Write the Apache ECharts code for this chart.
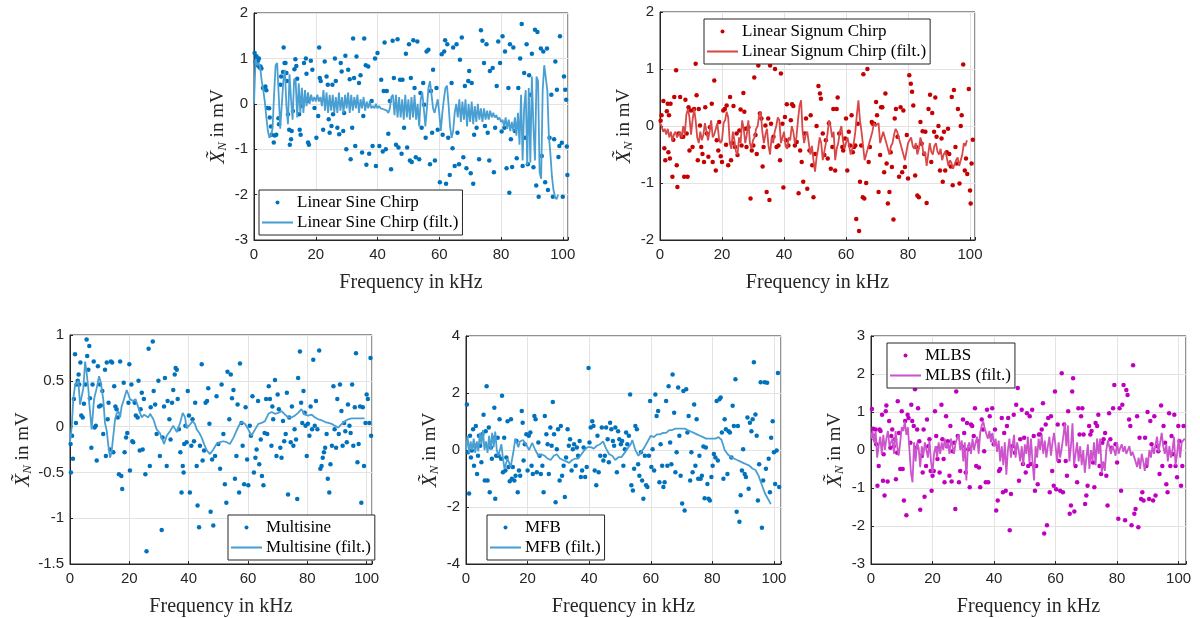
<!DOCTYPE html>
<html><head><meta charset="utf-8">
<script src="https://cdn.jsdelivr.net/npm/echarts@6/dist/echarts.min.js"></script>
<style>html,body{margin:0;padding:0;background:#fff}#c{width:1200px;height:618px}</style>
</head><body><div id="c"></div>
<script>
// ---------- DATA ----------
const xTicks = [0, 20, 40, 60, 80, 100];

// Panel 1: Linear Sine Chirp  [kHz, mV]
const sineDots = [[0.2,1.12],[0.5,0.92],[0.8,1.05],[1.1,0.85],[1.3,0.95],[1.6,1.0],[1.8,0.8],[2.1,0.82],[2.4,0.78],[2.9,0.35],[3.7,0.38],[4,0.3],[4.3,-0.09],[4.9,-0.1],[5.1,-0.3],[5.5,-0.5],[5.7,-0.68],[6.4,-0.85],[6.7,-0.7],[7.2,-0.68],[7.9,-0.32],[8.1,-0.45],[8.6,0.42],[8.8,0.6],[9.4,0.7],[9.6,1.24],[9.9,0.9],[10.2,0.9],[10.5,0.68],[10.7,0.5],[11,-0.23],[11.4,-0.57],[11.6,-0.9],[12,-0.78],[12.2,-0.6],[12.6,-0.16],[13.1,0.76],[13.4,0.98],[13.7,0.83],[14,0.55],[14.6,-0.23],[14.8,-0.57],[15.1,-0.68],[15.7,-0.05],[16.2,0.9],[16.8,1.0],[17,0.66],[17.3,0.06],[17.5,-0.85],[17.8,-0.9],[18.4,0.95],[18.9,0.75],[19.6,-0.09],[20.2,-0.75],[20.8,-0.27],[21.1,1.24],[21.3,0.57],[21.6,0.5],[22.4,-0.57],[22.9,0.93],[23.5,0.6],[23.9,0.42],[24.2,-0.34],[24.5,-0.64],[25.1,-0.49],[25.4,0.42],[25.6,-0.23],[26.2,1.0],[26.5,0.5],[27,-0.53],[27.6,-0.67],[28.1,0.9],[28.4,0.71],[28.9,-0.6],[29.2,-0.2],[29.6,1.06],[29.9,-1.0],[30.5,0.75],[31,0.54],[31.3,-1.22],[31.8,-0.53],[32.1,1.44],[32.4,0.57],[32.8,-0.93],[33.2,1.04],[34,0.46],[34.5,0.63],[35,-1.07],[35.4,-0.27],[35.7,1.44],[36.2,0.85],[36.4,-1.34],[37,0.82],[37.3,-1.1],[38.1,0.06],[38.4,-0.93],[39.2,1.0],[39.5,-1.37],[40,1.12],[40.6,-0.93],[41.2,0.53],[41.7,-1.05],[42,0.28],[42.3,1.35],[42.7,-1.0],[43,0.28],[43.5,-0.66],[44,0.06],[44.4,-1.44],[44.9,1.39],[45.3,0.57],[46,-0.9],[46.5,1.42],[46.8,-0.96],[47.3,0.53],[47.8,-1.1],[48.1,0.53],[48.6,-0.53],[49.2,1.1],[49.6,-0.96],[50.2,1.31],[50.5,-1.25],[50.8,0.57],[51.1,-1.28],[51.6,1.4],[52,0.35],[52.4,-1.18],[52.9,1.37],[53.5,-1.22],[53.9,0.24],[54.3,-0.53],[54.8,0.46],[55.1,-0.02],[55.6,-0.75],[55.9,1.15],[56.5,1.19],[57,-1.33],[57.3,0.28],[57.7,-0.64],[58,0.75],[58.6,-1.25],[59.1,0.35],[59.5,-0.57],[60.2,-1.73],[60.8,1.09],[61.1,-0.68],[61.6,1.15],[61.9,1.4],[62.2,-1.76],[62.6,1.31],[62.9,-0.75],[63.4,-1.57],[64,0.46],[64.3,-0.98],[64.5,1.24],[65,-1.37],[65.6,1.31],[65.9,-0.64],[66.4,-1.33],[66.7,0.97],[67.3,1.46],[67.8,-1.18],[68.3,0.39],[68.8,-1.42],[69.4,0.5],[69.7,0.72],[70.2,-1.53],[70.5,0.46],[71,-1.76],[71.3,-0.68],[72.1,-0.53],[72.9,-1.22],[73.5,1.62],[74,1.39],[74.5,0.9],[74.8,-0.49],[75.3,1.31],[75.7,-0.64],[76.2,-1.25],[76.4,0.72],[77.3,0.79],[77.7,-1.51],[78.1,-0.53],[78.6,0.39],[79.1,1.37],[79.7,0.9],[80.2,-0.61],[80.5,1.49],[81.1,-0.53],[81.3,1.15],[81.8,-1.42],[82.4,0.35],[82.7,-1.96],[82.9,1.31],[83.2,-0.78],[83.6,-1.39],[84,1.24],[84.5,-0.6],[85.1,-1.2],[85.6,0.35],[86.2,1.0],[86.7,1.76],[87,-1.37],[87.5,0.68],[87.8,-0.75],[88.3,1.31],[88.7,-1.33],[89.1,0.63],[89.6,0.2],[90,1.1],[90.5,-1.4],[91,1.63],[91.4,-1.8],[91.8,1.58],[92.2,-2.05],[92.9,1.22],[93.2,-1.15],[93.7,1.15],[94.3,-1.73],[94.9,1.22],[95.2,-1.9],[95.7,-0.75],[96.3,0.2],[96.8,-2.05],[97.2,-0.78],[97.6,0.93],[98.1,0.31],[98.6,-1.17],[98.9,-0.93],[99.1,1.49],[99.7,-0.86],[100,-2.05],[100.4,0.6],[100.8,0.31],[101.1,0.09],[101.3,-0.94],[101.5,-1.57]];
const sineFiltStep = 0.5;
const sineFilt = [
0.0,1.0,0.85,0.9,0.8,0.5,0.3,0.05,-0.3,-0.6,
-0.75,-0.7,-0.55,0.2,0.85,0.9,0.2,-0.55,-0.55,0.5,
0.75,-0.05,-0.45,0.65,0.1,-0.35,0.55,0.5,-0.3,0.45,
-0.2,0.35,-0.2,0.3,-0.05,0.25,0.0,0.2,0.05,0.15,
0.05,0.2,0.05,0.15,-0.05,0.3,-0.15,0.25,-0.2,0.2,
-0.15,0.2,-0.2,0.15,-0.2,0.25,-0.15,0.15,-0.2,0.2,
-0.1,0.25,-0.2,0.2,-0.15,0.15,-0.1,0.2,-0.2,0.1,
-0.1,0.15,-0.15,0.05,-0.1,0.05,-0.1,-0.05,-0.1,0.0,
-0.1,-0.05,-0.1,-0.1,-0.12,-0.1,-0.15,-0.2,-0.1,0.15,
0.2,-0.25,0.2,-0.3,0.15,-0.3,0.1,-0.35,0.2,-0.3,
0.1,-0.35,0.15,-0.3,0.2,-0.35,0.0,-0.5,0.1,0.25,
-0.1,-0.5,-0.1,0.35,0.5,0.2,-0.1,-0.2,-0.05,0.1,
-0.2,-0.6,-0.2,0.1,0.35,0.4,0.0,-0.5,-0.75,-0.6,
-0.2,0.0,-0.3,0.1,-0.4,0.05,-0.35,0.1,-0.5,0.0,
-0.4,0.05,-0.45,-0.05,-0.4,0.0,-0.35,-0.1,-0.4,-0.1,
-0.35,-0.15,-0.35,-0.15,-0.3,-0.2,-0.3,-0.25,-0.35,-0.3,
-0.4,-0.35,-0.5,-0.3,-0.55,-0.35,-0.6,-0.4,-0.6,-0.3,
-0.7,-0.2,-0.9,0.2,-1.25,-0.1,0.3,-1.35,0.35,-1.3,
0.6,-0.5,-1.25,0.6,0.5,-1.5,-1.65,0.3,0.85,0.85,
0.3,-0.7,-1.1,-1.6,-1.9,-2.05,-2.1,-2.0];

// Panel 2: Linear Signum Chirp
const signumDots = [[0.2,0.09],[0.5,0.19],[1.1,0.44],[1.4,-0.39],[1.7,-0.6],[2.2,0.26],[2.5,0.39],[2.7,-0.46],[2.9,0.19],[3.2,-0.57],[3.4,0.39],[4,-0.89],[4.3,-0.24],[4.6,0.51],[5.2,0.98],[5.4,-0.69],[5.6,-1.07],[6,-0.13],[6.5,0.51],[7,-0.19],[7.5,-0.19],[7.8,-0.89],[8.2,0.46],[8.6,-0.13],[8.9,-0.89],[9.2,0.33],[9.5,-0.43],[10,0.27],[10.5,-0.37],[11,0.3],[11.5,1.09],[11.8,0.54],[12.2,-0.6],[12.5,0.3],[12.9,0.01],[13.3,-0.37],[13.7,-0.49],[14.2,-0.63],[14.6,0.33],[15.1,-0.13],[15.6,-0.54],[16.1,-0.02],[16.7,0.39],[17,-0.63],[17.5,0.8],[18,-0.78],[18.3,-0.25],[18.8,-0.43],[19.1,0.07],[19.6,-0.53],[20,-0.63],[20.4,0.27],[20.9,0.3],[21.3,-0.33],[21.5,0.36],[22,-0.69],[22.6,0.51],[22.9,-0.6],[23.3,-0.3],[23.7,0.35],[24.2,-0.37],[24.7,-0.13],[25,-0.51],[25.6,-0.08],[26,0.29],[26.3,-0.34],[26.9,0.58],[27.2,0.25],[27.6,-0.05],[27.9,-0.37],[28.5,-0.02],[29.2,-1.27],[29.6,-0.43],[30.1,-0.34],[30.4,0.85],[30.8,-0.16],[31.2,-0.49],[31.7,1.06],[32.2,0.22],[32.7,0.13],[33.1,-0.71],[33.4,-0.37],[34,0.01],[34.4,-1.16],[34.9,0.13],[35.3,-1.3],[35.5,1.06],[35.8,0.04],[36.6,-0.19],[37.1,1.0],[37.6,-0.37],[38.2,-0.34],[38.7,-0.6],[39,0.92],[39.5,0.04],[39.8,-1.08],[40.3,0.16],[40.6,-0.25],[40.9,0.38],[41.4,-0.34],[41.7,1.12],[42.2,0.1],[42.6,0.38],[43,0.35],[43.5,-0.34],[44.1,-0.28],[44.7,-1.18],[45.2,-0.43],[45.7,-0.63],[46.2,-0.98],[46.7,-0.13],[47.1,0.13],[47.5,-1.1],[48.2,-0.43],[48.6,0.19],[49.1,-0.69],[49.5,-1.25],[50,-0.49],[50.5,0.0],[51.1,0.7],[51.6,0.57],[51.9,0.48],[52.5,-0.13],[53,-0.51],[53.5,-0.25],[54.1,-0.57],[54.5,0.05],[55.1,-0.75],[55.6,-0.37],[55.9,0.3],[56.5,-0.78],[57,0.3],[57.3,0.5],[57.8,-0.13],[58.3,1.25],[58.8,-0.37],[59.1,-0.43],[59.7,-0.22],[60,0.13],[60.4,-0.78],[60.9,-0.1],[61.3,-0.34],[61.8,0.19],[62.2,-0.46],[62.6,-0.37],[63,-0.34],[63.3,-1.63],[63.8,0.04],[64.2,-1.84],[64.5,-0.98],[64.9,-0.34],[65.4,-1.25],[65.6,0.91],[65.9,-1.27],[66.5,-1.0],[66.9,1.0],[67.3,-0.63],[67.7,-0.37],[68.3,0.07],[68.6,0.04],[69.1,0.04],[69.7,0.42],[70,0.19],[70.5,-1.16],[71,-0.51],[71.3,0.33],[71.7,0.33],[72.3,-0.81],[72.7,0.57],[73.1,-0.66],[73.5,-1.36],[74,-1.16],[74.4,-0.46],[74.8,-0.72],[75.3,-1.64],[75.7,0.13],[76.1,0.3],[76.6,-0.19],[77.1,-0.89],[77.6,0.33],[78.1,-0.81],[78.5,0.27],[79,-0.72],[79.6,-0.16],[80,-0.92],[80.4,0.89],[80.9,0.74],[81.3,0.6],[81.7,0.36],[82.3,-0.87],[82.6,-0.37],[83,-1.22],[83.5,-1.25],[84,0.07],[84.4,-0.31],[84.7,-0.09],[85.2,-0.49],[85.6,-0.1],[86,-1.35],[86.6,0.3],[87.1,0.55],[87.5,-0.63],[87.8,0.23],[88.4,-0.1],[88.8,0.5],[89.2,-0.19],[89.8,0.0],[90.3,-0.78],[90.8,-0.22],[91.2,-0.98],[91.6,-0.1],[92,-0.78],[92.5,-0.46],[92.9,-0.05],[93.3,-0.49],[93.8,-0.71],[94.1,0.51],[94.4,-1.04],[94.8,0.63],[95.3,-0.37],[95.7,-0.66],[96.1,0.3],[96.6,-1.01],[97,0.0],[97.3,0.19],[97.8,1.08],[98.3,-0.78],[98.7,-0.57],[99.1,-0.84],[99.6,0.65],[100,-1.13],[100.2,-1.36],[100.5,-0.66],[100.9,-0.24]];
const signumFiltStep = 0.5;
const signumFilt = [
0.05,0.0,-0.1,-0.05,-0.15,-0.05,-0.2,-0.1,-0.25,-0.15,
-0.1,-0.2,-0.15,-0.1,-0.2,0.0,-0.15,0.2,0.3,0.15,
-0.15,0.1,0.3,0.1,-0.2,-0.3,-0.1,-0.25,-0.15,0.05,
-0.1,-0.25,-0.1,0.1,-0.2,-0.15,-0.05,0.05,-0.2,-0.3,
-0.25,0.05,0.1,0.25,0.15,-0.3,-0.4,-0.1,-0.25,-0.45,
-0.5,-0.2,-0.3,0.1,-0.05,-0.3,-0.15,0.1,-0.3,-0.4,
-0.25,-0.2,-0.05,0.0,0.2,0.25,-0.1,-0.3,-0.15,-0.05,
-0.35,-0.5,-0.2,-0.3,-0.1,0.0,0.15,0.1,-0.3,-0.2,
-0.1,-0.35,-0.4,-0.2,-0.25,0.0,-0.1,-0.3,-0.2,0.1,
0.35,0.45,-0.1,-0.3,-0.15,-0.1,-0.3,-0.5,-0.35,-0.6,
-0.8,-0.55,-0.4,-0.2,-0.3,-0.6,-0.45,-0.3,-0.15,0.1,
0.0,-0.2,-0.1,-0.6,-0.4,-0.3,-0.1,0.0,-0.25,-0.4,
-0.3,-0.2,-0.35,-0.5,-0.4,-0.3,-0.1,0.2,0.45,0.1,
-0.1,-0.35,-0.6,-0.5,-0.4,-0.3,-0.2,-0.1,0.05,0.0,
0.0,0.05,-0.3,-0.2,-0.1,-0.2,-0.3,-0.4,-0.5,-0.35,
-0.3,-0.15,-0.05,-0.1,-0.2,-0.3,-0.4,-0.5,-0.6,-0.45,
-0.3,-0.25,-0.2,-0.35,-0.4,-0.3,-0.5,-0.4,-0.2,-0.3,
-0.5,-0.45,-0.7,-0.5,-0.3,-0.45,-0.5,-0.35,-0.3,-0.45,
-0.5,-0.4,-0.6,-0.5,-0.45,-0.55,-0.7,-0.6,-0.65,-0.75,
-0.75,-0.6,-0.55,-0.7,-0.7,-0.5,-0.3,-0.35,-0.25];

// Panel 3: Multisine
const multiDots = [[0.2,-0.19],[0.3,-0.5],[0.7,-0.1],[1,-0.35],[1.3,0.3],[1.7,0.79],[2,0.04],[2.2,0.46],[2.6,0.5],[2.9,0.57],[3.1,0.46],[3.5,0.7],[3.8,0.12],[4.3,0.1],[4.7,0.25],[5.2,0.46],[5.6,0.95],[5.8,0.77],[6.2,0.62],[6.5,0.88],[6.7,0.31],[7.2,-0.23],[7.6,0.46],[8,0.71],[8.3,-0.01],[8.7,0.01],[9,-0.37],[9.4,0.66],[9.8,0.22],[10.1,0.46],[10.4,0.23],[10.9,0.39],[11.2,-0.08],[11.8,0.62],[12.1,-0.32],[12.4,0.7],[12.7,0.08],[13,0.26],[13.5,-0.25],[13.8,0.71],[14.2,0.7],[14.6,-0.28],[14.9,0.44],[15.3,0.22],[15.7,0.19],[16.1,0.1],[16.5,-0.52],[16.9,0.71],[17.3,-0.54],[17.6,-0.68],[18.1,0.48],[18.4,-0.28],[18.9,-0.12],[19.3,-0.07],[19.7,0.26],[20,0.68],[20.2,-0.48],[20.7,0.46],[21,-0.16],[21.3,-0.17],[21.8,0.26],[22.2,0.12],[22.8,0.1],[23.1,0.5],[23.5,-0.26],[23.8,0.19],[24.2,0.37],[24.5,-0.25],[24.9,0.3],[25.4,-0.52],[25.8,-1.36],[26.5,0.85],[26.9,-0.43],[27.2,0.21],[27.9,0.93],[28.2,0.39],[28.7,0.24],[29.2,-0.08],[29.8,0.5],[30.3,-0.32],[30.9,-1.13],[31.2,-0.12],[31.7,0.22],[32,0.53],[32.6,-0.43],[32.9,0.28],[33.5,0.08],[33.9,-0.14],[34.4,0.26],[34.8,0.4],[35.3,0.57],[35.6,0.64],[36,0.62],[36.3,0.3],[36.7,-0.03],[37.2,-0.28],[37.6,-0.72],[38,-0.43],[38.3,-0.5],[38.5,-0.19],[38.9,0.01],[39.3,-0.17],[39.7,0.39],[40.1,0.12],[40.4,-0.72],[40.9,-0.21],[41.3,0.08],[41.8,-0.16],[42.2,0.26],[42.7,-0.43],[43,-0.86],[43.5,-1.1],[43.8,-0.21],[44.4,0.68],[44.7,-0.37],[45.2,-0.26],[45.7,0.26],[46.2,0.28],[46.6,0.42],[47,0.03],[47.4,-0.93],[47.9,-0.36],[48.3,-1.08],[48.9,-0.32],[49.4,0.33],[50,-0.19],[50.6,-0.46],[51.1,0.46],[51.7,-0.08],[52.2,-0.63],[52.7,-0.83],[53.1,0.6],[53.7,0.08],[54.2,0.57],[54.6,0.31],[55.1,0.4],[55.6,-0.57],[56.1,-0.32],[56.5,0.24],[57,-0.72],[57.3,0.69],[57.8,0.04],[58.2,-0.21],[58.7,-0.63],[59.2,0.21],[59.7,-0.36],[60.1,-0.64],[60.6,0.01],[61,-0.1],[61.5,0.33],[62,-0.5],[62.5,-0.34],[62.9,-0.25],[63.4,0.28],[63.8,-0.41],[64.3,-0.14],[64.7,-0.54],[65.2,-0.64],[65.6,-0.07],[66.1,0.3],[66.5,-0.08],[67,0.44],[67.4,0.3],[67.9,-0.21],[68.2,0.22],[68.5,0.08],[69.1,0.51],[69.6,-0.32],[70,0.35],[70.4,0.19],[70.9,-0.23],[71.3,-0.34],[71.8,0.06],[72.2,-0.16],[72.7,-0.08],[73.1,0.37],[73.5,-0.74],[73.9,0.1],[74.4,-0.17],[74.8,0.22],[75.3,-0.21],[75.7,-0.03],[76.2,-0.14],[76.6,-0.79],[76.9,0.53],[77.5,0.82],[77.9,0.26],[78.3,0.04],[78.7,0.39],[79.1,0.15],[79.4,0.01],[79.8,-0.32],[80.2,0.03],[80.7,-0.1],[81.1,0.22],[81.6,-0.03],[82,0.73],[82.5,0.01],[82.9,0.28],[83.4,-0.03],[84,0.83],[84.4,-0.46],[84.8,-0.43],[85.2,-0.34],[85.6,-0.28],[86,-0.23],[86.5,-0.08],[86.9,-0.57],[87.4,-0.72],[87.8,-0.41],[88.3,-0.21],[88.8,0.44],[89.2,-0.03],[89.7,-0.23],[90.1,0.3],[90.6,-0.08],[91,0.46],[91.5,0.17],[91.9,-0.21],[92.4,0.04],[92.8,-0.05],[93.3,-0.17],[93.7,0.24],[94.2,0.01],[94.6,-0.07],[95.1,0.46],[95.5,-0.21],[96,0.21],[96.4,0.8],[96.9,-0.39],[97.3,-0.19],[97.8,0.22],[98.2,-0.83],[98.7,0.21],[99.1,-0.43],[99.6,0.04],[100,0.35],[100.4,0.3],[100.9,0.04],[101.3,0.75],[101.5,-0.1],[101.7,-1.12]];
const multiFilt = [[0,-0.17],[0.6,0],[1.1,0.3],[1.7,0.45],[2.2,0.44],[2.8,0.5],[3.4,0.24],[3.9,0.22],[4.5,0.42],[5.1,0.71],[5.6,0.59],[6.2,0.41],[6.5,0.25],[7.3,-0.03],[8.1,0.3],[9,0.42],[9.8,0.55],[10.4,0.48],[11.2,0.3],[11.8,0.04],[12.4,-0.05],[12.9,-0.2],[13.5,-0.34],[14,-0.28],[14.6,-0.1],[15.2,0.08],[15.7,0.14],[16.3,0.17],[16.9,0.1],[17.4,0.22],[18,0.28],[19.1,0.4],[19.7,0.35],[20.2,0.3],[20.8,0.3],[21.3,0.28],[22.1,0.3],[22.7,0.32],[23.6,0.15],[24.2,0.1],[25,0.13],[25.6,0.12],[26.4,0.1],[27,0.14],[28.1,0.08],[29.2,-0.03],[30.3,-0.07],[31.7,-0.19],[32.6,-0.1],[33.7,-0.05],[34.8,0.01],[36,-0.06],[37.1,0.04],[38,0.15],[38.8,0.1],[39.3,-0.02],[40.4,0.02],[41.3,0.06],[42.1,0.03],[42.7,-0.03],[43.6,-0.07],[44.4,-0.12],[45.3,-0.2],[46.1,-0.26],[47.2,-0.3],[48.3,-0.25],[49.4,-0.19],[50.6,-0.17],[51.7,-0.16],[52.8,-0.17],[53.9,-0.19],[55.1,-0.12],[56.2,-0.04],[57.1,0.02],[57.9,0.05],[59,0.03],[60.1,-0.03],[61.2,-0.1],[62.4,-0.03],[63.5,0.03],[64.6,0.04],[65.7,0.06],[66.9,0.14],[68,0.16],[69.1,0.14],[70.2,0.15],[71.3,0.17],[72.5,0.13],[73.6,0.1],[74.7,0.1],[75.8,0.12],[76.9,0.15],[78,0.19],[79.2,0.13],[80.3,0.12],[81.5,0.13],[82.6,0.1],[83.7,0.08],[84.8,0.07],[86,0.05],[87.1,0.04],[88.2,0.03],[89.3,0.01],[90.4,-0.01],[91.6,0.03],[92.7,0.06],[93.8,0.08],[94.9,0.09],[96.1,0.09],[97.2,0.09],[98.3,0.09],[99.3,0.09]];

// Panel 4: MFB
const mfbDots = [[0.3,1.6],[0.6,-0.08],[1,-1.53],[1.3,0.5],[1.6,-0.26],[1.9,-0.02],[2.3,0.73],[2.6,-0.55],[2.9,0.15],[3.2,0.84],[3.6,-0.84],[3.9,-0.2],[4.2,0.5],[4.6,0.15],[5,-0.43],[5.3,0.55],[5.7,1.24],[6.1,-1.07],[6.4,0.66],[6.7,2.24],[7,-1.07],[7.4,0.79],[7.7,-1.48],[8.1,0.09],[8.4,-0.31],[8.8,0.43],[9.2,1.48],[9.5,-1.71],[9.8,-0.2],[10.3,0.43],[10.6,-0.2],[10.9,1.08],[11.4,-0.31],[11.7,1.9],[12,-0.78],[12.4,0.43],[12.8,-0.72],[13.1,-0.26],[13.5,1.01],[13.8,-0.6],[14.2,-1.1],[14.6,1.08],[14.9,-1.01],[15.2,-0.6],[15.7,-1.07],[16.1,-0.9],[16.4,0.32],[16.8,-1.48],[17.2,-0.72],[17.6,-0.9],[18.1,1.37],[18.4,0.96],[18.7,-0.37],[19.1,0.2],[19.6,0.55],[20,-0.72],[20.4,0.5],[20.9,0.61],[21.3,-0.55],[21.7,-0.84],[22.2,1.19],[22.6,1.08],[23,-0.78],[23.5,0.26],[23.9,-0.2],[24.3,-0.84],[24.8,-0.55],[25.2,-1.48],[25.6,1.19],[26.1,0.55],[26.5,0.2],[26.9,-0.84],[27.4,0.79],[27.8,0.15],[28.2,1.68],[28.6,0.55],[29.1,-1.83],[29.5,0.03],[29.9,0.73],[30.4,-1.07],[30.8,0.84],[31.2,-0.9],[31.7,-0.55],[32.1,-1.65],[32.5,-0.26],[33,0.73],[33.4,0.15],[33.8,0.38],[34.3,-0.72],[34.7,0.03],[35.1,0.2],[35.6,-0.55],[36,0.09],[36.4,-0.2],[36.9,0.32],[37.3,-0.95],[37.7,-0.72],[38.2,0.09],[38.7,-0.95],[39.2,-0.6],[39.8,2.88],[40.1,0.26],[40.5,0.79],[41,1.01],[41.4,0.84],[41.8,-0.72],[42.3,-1.24],[42.7,0.5],[43.1,-0.78],[43.6,-0.2],[44.1,0.79],[44.6,-0.37],[45.1,-0.2],[45.5,0.79],[46,0.38],[46.4,-0.43],[46.8,0.96],[47.2,0.73],[47.7,0.32],[48.1,0.15],[48.5,0.79],[49,-0.78],[49.4,0.66],[49.8,0.38],[50.3,0.2],[50.7,0.32],[51.1,-0.55],[51.6,0.03],[52,0.61],[52.4,0.2],[52.9,0.5],[53.3,1.95],[53.7,-1.24],[54.2,-1.42],[54.6,-0.66],[55,0.84],[55.5,0.73],[55.9,-0.5],[56.3,-0.9],[56.8,-0.08],[57.2,-1.07],[57.6,-1.71],[58.1,-0.2],[58.5,-1.24],[58.9,-1.3],[59.4,-0.2],[59.8,1.72],[60.2,-0.6],[60.6,0.03],[61.1,-0.72],[61.5,1.95],[61.9,1.19],[62.4,1.37],[62.8,-1.13],[63.2,0.2],[63.7,-0.55],[64.1,-1.3],[64.5,-1.13],[65,1.72],[65.4,-0.55],[65.8,2.24],[66.3,0.26],[66.7,-0.5],[67.1,2.65],[67.6,1.31],[68,-0.78],[68.4,-0.08],[68.9,2.19],[69.3,0.5],[69.7,-0.9],[70.2,-1.88],[70.6,2.07],[71,-2.12],[71.5,2.13],[71.9,0.61],[72.3,1.19],[72.8,-1.07],[73.2,-0.08],[73.6,-0.78],[74.1,1.6],[74.5,-0.55],[74.9,1.08],[75.4,-1.01],[75.8,-0.2],[76.2,-1.01],[76.6,-0.9],[77.1,0.12],[77.5,-1.69],[77.9,0.09],[78.4,-1.19],[78.8,-1.71],[79.2,-1.77],[79.7,-0.95],[80.1,-0.55],[80.5,-0.14],[81,-0.26],[81.4,1.72],[81.8,-0.37],[82.3,1.78],[82.7,1.84],[83.1,0.61],[83.6,-1.01],[84,1.08],[84.4,0.73],[84.9,-0.84],[85.3,0.66],[85.7,0.61],[86.2,-0.26],[86.6,1.55],[87,0.84],[87.5,2.48],[87.9,-2.17],[88.3,0.84],[88.8,-2.52],[89.2,-1.59],[89.6,-0.72],[90,0.03],[90.5,-0.84],[90.9,-0.95],[91.4,1.14],[91.8,-1.36],[92.2,0.96],[92.7,0.66],[93.1,1.08],[93.5,3.08],[94,1.25],[94.4,0.5],[94.8,-1.77],[95.2,-0.5],[95.7,2.38],[96.1,-2.73],[96.5,-1.07],[97,2.38],[97.4,-0.66],[97.8,2.36],[98.3,-0.31],[98.7,-1.48],[99.1,0.43],[99.6,1.01],[100,-0.08],[100.4,-1.19],[100.9,-0.02],[101.3,2.7],[101.7,-1.3]];
const mfbFilt = [[0,0],[0.5,0.5],[1,-0.1],[1.5,0.3],[2,0.0],[2.5,0.4],[3,-0.1],[3.5,0.3],[4,-0.05],[4.5,0.6],[5,0.2],[5.5,0.7],[6,0.0],[6.5,0.3],[7,-0.1],[7.5,0.5],[8,0.0],[8.5,0.6],[9,0.1],[9.5,0.65],[10,0.0],[10.5,-0.2],[11,0.0],[11.5,0.2],[12,-0.3],[12.5,-0.65],[13.5,-0.3],[14.5,-0.6],[15.5,0.0],[16,0.4],[17,0.1],[17.5,0.3],[18.5,0.35],[19.5,0.2],[20.5,0.0],[21.5,0.25],[22.5,0.0],[23.5,-0.2],[24.5,-0.15],[25.5,-0.2],[26.5,-0.3],[27.5,-0.35],[28.5,-0.2],[29.5,-0.15],[30.5,-0.3],[31.5,-0.35],[32.5,-0.4],[33.5,-0.45],[34.5,-0.35],[35.5,-0.3],[36.5,-0.3],[37.5,-0.15],[38.5,0.0],[39.5,0.1],[40.5,0.1],[41.5,0.05],[42.5,0.15],[43.5,0.2],[44.5,0.3],[45.5,0.05],[46.5,-0.15],[47.5,-0.2],[48.5,-0.35],[49.5,-0.25],[50.5,-0.25],[51.5,-0.1],[52.5,0.05],[53.5,0.2],[54,0.35],[55,0.0],[56,-0.2],[57,-0.05],[58,0.1],[59,0.3],[60,0.5],[61,0.45],[62,0.55],[63,0.55],[64,0.6],[65,0.6],[66,0.7],[67,0.7],[68,0.75],[69,0.75],[70,0.75],[71,0.75],[72,0.7],[73,0.65],[74,0.6],[75,0.55],[76,0.5],[77,0.45],[78,0.4],[79,0.4],[80,0.4],[81,0.4],[82,0.45],[83,0.35],[84,0.0],[85,-0.15],[86,-0.25],[87,-0.3],[88,-0.35],[89,-0.4],[90,-0.45],[91,-0.5],[92,-0.55],[93,-0.65],[94,-0.7],[95,-0.9],[96,-1.2],[97,-1.5],[98,-1.7],[99,-1.9]];

// Panel 5: MLBS
const mlbsDots = [[0.3,1.08],[0.7,0.56],[0.9,0.37],[1.2,0.28],[1.5,0.54],[1.7,0.15],[2.1,-0.94],[2.5,-0.42],[2.8,0.54],[3.1,0.5],[3.6,0.93],[3.9,-0.81],[4.1,-0.11],[4.4,-1.2],[4.8,1.02],[5,1.17],[5.4,-0.83],[5.9,0.76],[6.3,0.06],[6.6,0.37],[6.9,0.54],[7.4,0.1],[7.8,0.28],[8.1,-0.77],[8.5,-0.07],[8.7,1.28],[9.1,0.45],[9.5,-0.5],[10,1.02],[10.3,-0.5],[10.7,-1.33],[11.1,0.76],[11.5,-1.72],[11.9,0.93],[12.2,0.84],[12.8,0.19],[13.1,1.19],[13.4,0.76],[13.9,0.63],[14.3,1.6],[14.6,0.06],[15,0.54],[15.3,1.1],[15.7,0.23],[16,-1.57],[16.5,-0.16],[16.8,-0.59],[17.1,0.54],[17.4,-1.23],[17.9,-0.42],[18.2,0.8],[18.6,0.1],[19,0.28],[19.4,-0.55],[19.7,-1.07],[20,-0.68],[20.4,-0.55],[20.8,1.02],[21.2,0.37],[21.6,-0.24],[21.9,0.06],[22.3,-0.59],[22.9,1.19],[23.2,0.28],[23.6,-0.24],[23.9,-0.85],[24.4,0.89],[24.7,0.1],[25,0.23],[25.5,-0.68],[25.8,0.63],[26.2,-0.83],[26.5,-0.03],[27,0.19],[27.4,-1.55],[27.7,1.54],[28.2,0.37],[28.6,-0.85],[29,-0.55],[29.5,0.1],[29.9,0.8],[30.3,0.45],[30.8,-0.59],[31.2,0.71],[31.6,0.02],[32.1,-0.98],[32.5,0.67],[32.9,0.63],[33.4,0.37],[33.8,1.1],[34.2,-0.42],[34.7,0.23],[35.1,-0.46],[35.5,-0.98],[36,0.8],[36.4,0.54],[36.8,-0.03],[37.3,-0.85],[37.7,1.06],[38.1,-0.85],[38.6,0.89],[39,0.37],[39.4,1.1],[39.9,0.15],[40.3,0.54],[40.7,-1.59],[41.2,-1.33],[41.6,-0.55],[42,-0.5],[42.5,0.84],[42.9,-1.11],[43.3,0.45],[43.8,-1.07],[44.2,0.63],[44.6,0.84],[45.1,-2.11],[45.5,-1.16],[45.9,0.1],[46.4,0.93],[46.8,-0.07],[47.2,1.19],[47.7,1.63],[48.1,-0.81],[48.5,0.28],[49,1.06],[49.4,-0.37],[49.8,0.32],[50.3,-0.59],[50.7,0.97],[51.1,-0.42],[51.6,0.89],[52,-0.37],[52.4,1.06],[52.9,0.37],[53.3,-1.07],[53.7,-0.42],[54.2,-0.9],[54.6,0.41],[55,0.41],[55.5,0.54],[55.9,1.23],[56.3,-2.2],[56.8,0.67],[57.2,-1.98],[57.6,0.84],[58.1,-1.11],[58.5,0.89],[58.9,-0.55],[59.4,-0.94],[59.8,1.54],[60.2,-1.03],[60.7,0.67],[61.1,-0.29],[61.5,-1.07],[62,2.02],[62.4,-1.11],[62.8,0.67],[63.3,-0.29],[63.7,-0.68],[64.1,1.02],[64.6,-1.68],[65,-1.46],[65.4,1.54],[65.7,1.89],[66.1,-1.62],[66.5,-0.42],[67,-0.85],[67.4,1.1],[67.8,0.41],[68.3,0.89],[68.7,1.1],[69.1,0.41],[69.6,-1.42],[70,-1.2],[70.4,-0.94],[70.9,0.63],[71.3,0.41],[71.7,0.5],[72.2,-0.33],[72.6,-0.98],[73,0.71],[73.5,0.63],[73.9,0.93],[74.3,-0.42],[74.8,-0.63],[75.2,0.19],[75.6,0.28],[76.1,0.45],[76.5,-0.68],[76.9,-1.46],[77.4,0.97],[77.8,0.28],[78.2,0.06],[78.7,1.1],[79.1,1.71],[79.5,0.15],[80,-0.33],[80.4,-1.81],[80.8,1.1],[81.3,-1.07],[81.7,1.19],[82.1,1.71],[82.6,-1.85],[83,1.58],[83.4,1.45],[83.9,0.8],[84.3,0.63],[84.7,-1.98],[85.2,2.23],[85.6,-1.68],[86,-1.55],[86.5,0.89],[86.9,-2.03],[87.3,0.32],[87.8,-1.29],[88.2,-1.11],[88.6,-1.33],[89.1,0.32],[89.5,-0.42],[89.9,1.0],[90.4,-1.29],[90.8,0.76],[91.2,0.15],[91.7,-1.33],[92.1,0.89],[92.5,-1.2],[93,0.1],[93.4,-0.03],[93.8,-0.63],[94.3,1.17],[94.7,-0.42],[95.1,0.63],[95.6,0.19],[96,-0.9],[96.4,-1.11],[96.9,0.97],[97.3,-0.42],[97.7,0.37],[98.2,-0.11],[98.6,0.93],[99,-0.42],[99.5,-0.72],[99.9,0.63],[100.3,0.23],[100.8,-0.94],[101.2,-0.42],[101.6,0.63]];
const mlbsFiltStep = 0.5;
const mlbsFilt = [
0.3,0.5,0.2,0.5,-0.2,0.1,0.35,-0.1,0.4,0.0,
0.3,0.5,0.1,0.05,0.3,-0.1,0.5,0.1,-0.15,0.2,
0.6,0.5,0.75,0.4,0.6,0.0,-0.6,-0.85,0.2,-0.3,
0.2,0.05,-0.45,0.1,-0.15,0.2,0.0,-0.2,0.25,-0.3,
-0.6,-0.1,0.1,-0.2,0.2,-0.1,0.2,0.0,0.3,0.05,
0.2,-0.1,0.3,0.1,-0.1,0.2,0.15,0.4,0.0,0.25,
-0.3,0.2,-0.8,0.1,0.2,-0.1,0.3,0.0,0.2,0.35,
-0.1,0.45,0.65,0.75,0.55,0.6,0.3,0.5,0.2,0.45,
0.1,0.3,-0.05,0.25,-0.3,0.1,-0.4,0.2,-0.65,0.0,
0.3,-0.2,0.1,0.4,-0.2,0.2,0.0,-0.3,0.1,-0.4,
0.15,-0.1,0.35,-0.35,0.3,-0.3,-0.8,0.1,-0.2,0.3,
0.0,0.4,-0.1,0.25,-0.2,0.1,0.35,-0.15,0.2,0.45,
0.1,-0.3,0.2,-0.2,0.05,0.35,0.7,0.1,0.65,-0.3,
0.1,0.7,-0.4,-0.1,0.2,-0.3,0.1,-0.4,0.0,-0.6,
-0.2,0.15,-0.5,0.0,-0.3,0.2,-0.4,0.3,-0.1,0.3,
-0.6,-0.3,-0.55,0.0,0.25,0.3,-0.1,0.1,0.0,-0.15,
0.2,-0.1,0.05,0.15,-0.05,0.1,-0.1,0.0,0.1,-0.15,
-0.05,0.0,-0.3,-0.45,-0.2,-0.5,-0.1,-0.3,-0.55,-0.2,
-0.4,0.0,-0.2,0.1,-0.1,0.15,0.35,-0.05,0.2,0.45,
0.1,-0.1,0.15,-0.3,0.1,-0.2,0.0,0.35,-0.4,-0.1,
0.3,-0.2,0.2,0.15,0.3];

// ---------- CHART ----------
function stepPairs(vals, step) { return vals.map((v, i) => [i * step, v]); }

const BLUE = '#0072BD', BLUE_L = '#4a9fd2';
const panels = [
  { dots: sineDots, filt: stepPairs(sineFilt, sineFiltStep), name: 'Linear Sine Chirp', dc: BLUE, lc: BLUE_L,
    yMin: -3, yMax: 2, yInt: 1, xMax: 101.7, grid: {left: 254, top: 13, width: 314, height: 227},
    legend: {left: 259, top: 190} },
  { dots: signumDots, filt: stepPairs(signumFilt, signumFiltStep), name: 'Linear Signum Chirp', dc: '#c40000', lc: '#d84848',
    yMin: -2, yMax: 2, yInt: 1, xMax: 101.6, grid: {left: 660, top: 12, width: 315, height: 228},
    legend: {left: 704, top: 19} },
  { dots: multiDots, filt: multiFilt, name: 'Multisine', dc: BLUE, lc: BLUE_L,
    yMin: -1.5, yMax: 1, yInt: 0.5, xMax: 101.8, grid: {left: 70, top: 335, width: 302, height: 230},
    legend: {left: 228, top: 515} },
  { dots: mfbDots, filt: mfbFilt, name: 'MFB', dc: BLUE, lc: BLUE_L,
    yMin: -4, yMax: 4, yInt: 2, xMax: 102.3, grid: {left: 466, top: 336, width: 315, height: 231},
    legend: {left: 487, top: 515} },
  { dots: mlbsDots, filt: stepPairs(mlbsFilt, mlbsFiltStep), name: 'MLBS', dc: '#bf00bf', lc: '#cc55cc',
    yMin: -3, yMax: 3, yInt: 1, xMax: 102.4, grid: {left: 871, top: 336, width: 315, height: 230},
    legend: {left: 887, top: 343} }
];

const AX = '#262626';
const tickFont = {fontFamily: 'Liberation Sans, Arial, sans-serif', fontSize: 15, color: AX};
const serif = 'Liberation Serif, Times New Roman, serif';
const LINE_ICON = 'path://M0,0H30V2H0Z';

const option = { animation: false, backgroundColor: '#fff', grid: [], xAxis: [], yAxis: [], series: [], legend: [] };

panels.forEach((p, i) => {
  option.grid.push(Object.assign({ show: true, borderColor: AX, borderWidth: 1, containLabel: false }, p.grid));
  option.xAxis.push({
    type: 'value', gridIndex: i, min: 0, max: p.xMax, interval: 20,
    name: 'Frequency in kHz', nameLocation: 'middle', nameGap: 33,
    nameTextStyle: {fontFamily: serif, fontSize: 20, color: AX},
    axisLine: {show: true, onZero: false, lineStyle: {color: AX, width: 1}},
    axisTick: {show: true, inside: true, length: 3, lineStyle: {color: AX}},
    axisLabel: Object.assign({ margin: 7,
      formatter: v => (xTicks.some(t => Math.abs(t - v) < 1e-6) ? String(v) : '') }, tickFont),
    splitLine: {show: true, lineStyle: {color: '#e3e3e3', width: 1}}
  });
  option.yAxis.push({
    type: 'value', gridIndex: i, min: p.yMin, max: p.yMax, interval: p.yInt,
    name: '{x|X\u0303}{s|N}{t| in mV}', nameLocation: 'middle', nameGap: 25,
    nameTextStyle: {color: AX, rich: {
      x: {fontFamily: serif, fontStyle: 'italic', fontSize: 21, color: AX},
      s: {fontFamily: serif, fontStyle: 'italic', fontSize: 13, color: AX, padding: [9, 0, 0, 0]},
      t: {fontFamily: serif, fontSize: 19, color: AX}
    }},
    axisLine: {show: true, onZero: false, lineStyle: {color: AX, width: 1}},
    axisTick: {show: true, inside: true, length: 3, lineStyle: {color: AX}},
    axisLabel: Object.assign({ margin: 6 }, tickFont),
    splitLine: {show: true, lineStyle: {color: '#e3e3e3', width: 1}}
  });
  option.series.push({
    type: 'scatter', name: p.name, xAxisIndex: i, yAxisIndex: i, data: p.dots,
    symbol: 'circle', symbolSize: 4.5, itemStyle: {color: p.dc, opacity: 1}, silent: true
  });
  option.series.push({
    type: 'line', name: p.name + ' (filt.)', xAxisIndex: i, yAxisIndex: i, data: p.filt,
    symbol: 'none', showSymbol: false, lineStyle: {color: p.lc, width: 1.8}, itemStyle: {color: p.lc}, silent: true
  });
  option.legend.push({
    left: p.legend.left, top: p.legend.top, orient: 'vertical',
    data: [{name: p.name, icon: 'circle'}, {name: p.name + ' (filt.)', icon: LINE_ICON}],
    backgroundColor: '#fff', borderColor: AX, borderWidth: 1, borderRadius: 0,
    padding: [4, 4, 4, 3], itemGap: 3, itemWidth: 31, itemHeight: 4,
    textStyle: {fontFamily: serif, fontSize: 17, color: '#000', padding: [0, 0, 0, -1]},
    selectedMode: false
  });
});

const chart = echarts.init(document.getElementById('c'), null, {renderer: 'canvas'});
chart.setOption(option);
</script>
</body></html>
